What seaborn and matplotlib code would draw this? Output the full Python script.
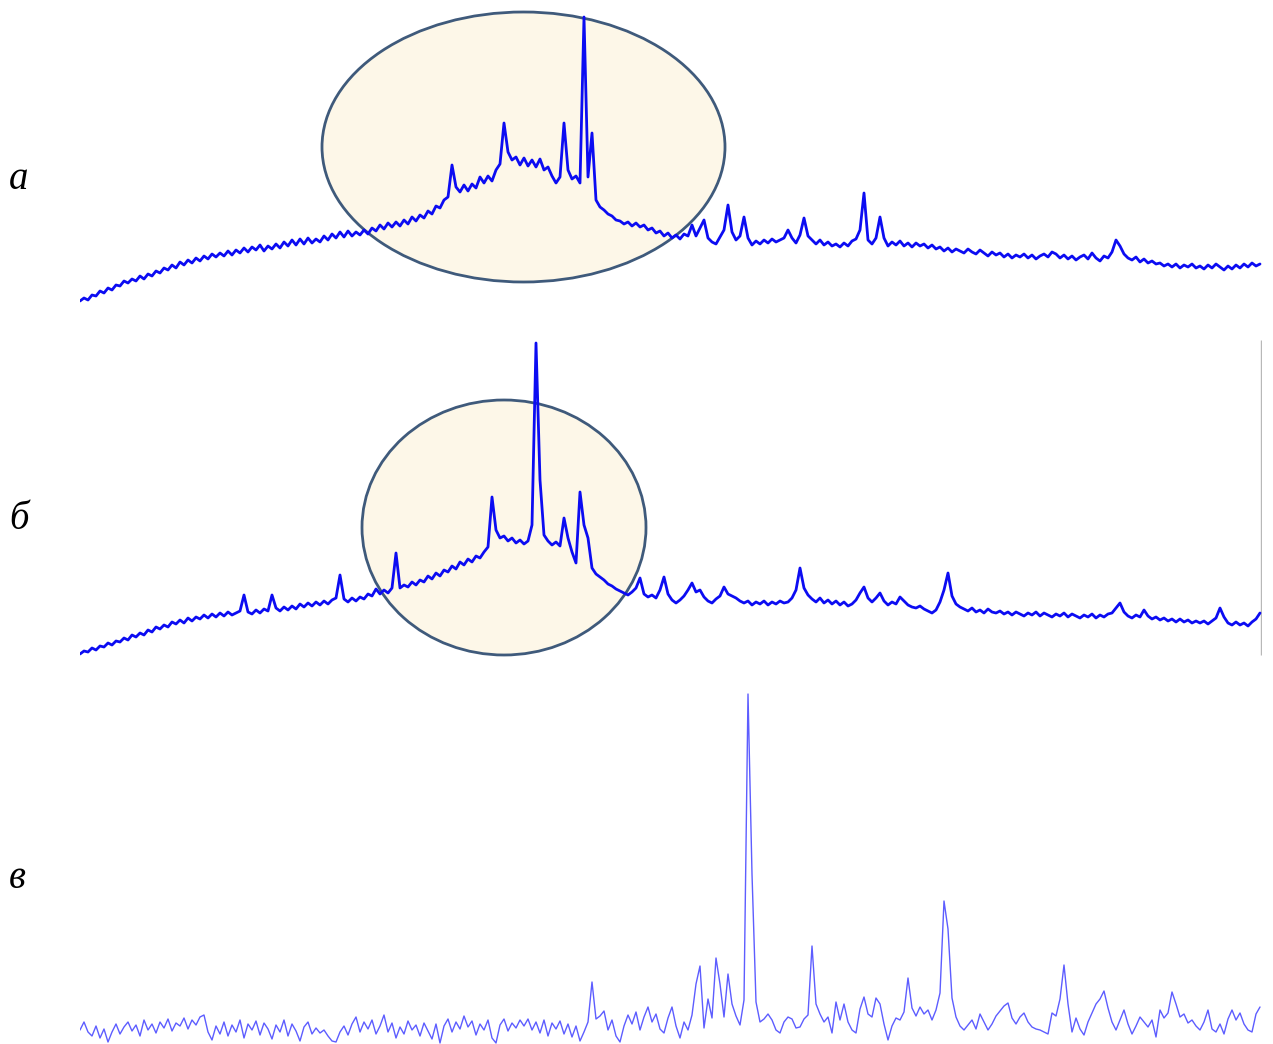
import numpy as np
import pandas as pd
import matplotlib
matplotlib.use("Agg")
import matplotlib.pyplot as plt
from matplotlib.patches import Ellipse
import seaborn as sns

# ---------------- data (2theta step scan, 0.2 deg step, 5.0 .. 64.0 deg) ----------------
two_theta = np.round(5.0 + 0.2 * np.arange(296), 1)

# pattern "а" (intensity, arb. units)
intensity_a = [
    9, 12, 10, 15, 14, 19, 17, 22, 20, 25,
    24, 29, 27, 31, 29, 34, 31, 36, 34, 39,
    37, 42, 40, 45, 42, 48, 45, 50, 47, 52,
    49, 54, 51, 56, 53, 57, 54, 59, 55, 60,
    57, 62, 58, 63, 60, 65, 59, 64, 61, 66,
    62, 68, 64, 70, 65, 71, 66, 72, 67, 71,
    68, 74, 70, 76, 72, 78, 73, 79, 74, 78,
    75, 80, 76, 82, 79, 85, 81, 87, 83, 88,
    84, 90, 86, 93, 89, 95, 92, 99, 96, 104,
    102, 110, 113, 145, 123, 118, 125, 119, 126, 122,
    133, 127, 134, 129, 140, 146, 187, 158, 150, 153,
    145, 152, 144, 150, 143, 151, 140, 143, 134, 127,
    133, 187, 140, 131, 134, 127, 293, 133, 177, 110,
    103, 100, 96, 94, 90, 89, 86, 88, 84, 87,
    83, 85, 80, 82, 77, 79, 74, 77, 72, 75,
    71, 76, 74, 85, 74, 82, 90, 72, 68, 66,
    73, 80, 105, 78, 70, 74, 93, 72, 65, 69,
    66, 70, 67, 71, 68, 70, 72, 80, 72, 67,
    75, 92, 74, 70, 66, 70, 65, 68, 64, 66,
    63, 67, 64, 69, 71, 80, 117, 70, 66, 72,
    93, 72, 64, 68, 65, 69, 64, 67, 63, 67,
    64, 66, 62, 65, 61, 63, 59, 62, 58, 61,
    59, 57, 61, 58, 56, 60, 57, 54, 58, 55,
    57, 53, 56, 52, 55, 53, 56, 52, 55, 51,
    54, 56, 53, 58, 56, 52, 55, 51, 54, 50,
    53, 55, 51, 57, 52, 49, 54, 52, 58, 70,
    64, 56, 52, 50, 53, 48, 51, 47, 49, 46,
    47, 44, 46, 43, 46, 42, 45, 43, 46, 42,
    44, 41, 45, 42, 46, 43, 40, 44, 41, 45,
    42, 46, 43, 47, 44, 46,
]

# pattern "б"
intensity_b = [
    6, 9, 8, 12, 10, 14, 13, 17, 15, 19,
    18, 22, 20, 25, 23, 27, 25, 30, 28, 33,
    31, 35, 33, 38, 36, 40, 37, 42, 39, 43,
    41, 45, 42, 46, 43, 47, 44, 48, 45, 47,
    49, 65, 48, 46, 50, 47, 51, 49, 65, 52,
    49, 53, 50, 54, 51, 56, 53, 57, 54, 58,
    55, 59, 56, 60, 62, 85, 61, 58, 62, 59,
    63, 61, 66, 64, 71, 66, 70, 67, 72, 107,
    72, 75, 73, 78, 75, 80, 78, 84, 81, 87,
    84, 90, 88, 94, 91, 98, 95, 101, 98, 104,
    102, 108, 113, 163, 130, 122, 124, 119, 122, 117,
    120, 116, 119, 135, 317, 180, 125, 119, 115, 118,
    114, 142, 122, 108, 97, 168, 135, 122, 92, 86,
    83, 80, 76, 74, 71, 69, 67, 65, 68, 72,
    82, 66, 63, 65, 62, 70, 83, 66, 60, 57,
    60, 64, 70, 77, 68, 70, 63, 59, 57, 61,
    64, 73, 66, 64, 62, 59, 57, 59, 55, 58,
    56, 59, 55, 58, 56, 59, 57, 58, 62, 70,
    92, 72, 65, 61, 58, 62, 57, 60, 56, 59,
    55, 58, 54, 56, 60, 67, 73, 62, 58, 62,
    67, 59, 55, 58, 56, 63, 59, 55, 53, 52,
    54, 51, 49, 47, 50, 58, 70, 87, 64, 56,
    53, 51, 49, 52, 48, 50, 47, 51, 48, 47,
    49, 46, 48, 45, 48, 46, 44, 47, 45, 48,
    44, 47, 45, 43, 46, 44, 47, 43, 46, 44,
    42, 45, 43, 46, 42, 45, 43, 46, 47, 52,
    57, 48, 44, 42, 45, 43, 50, 44, 41, 43,
    40, 42, 39, 41, 38, 41, 38, 40, 37, 39,
    37, 39, 36, 39, 42, 52, 43, 37, 35, 38,
    35, 37, 34, 38, 41, 47,
]

# pattern "в"
intensity_c = [
    14, 22, 12, 8, 18, 6, 15, 2, 12, 20,
    10, 17, 22, 13, 19, 8, 24, 14, 20, 11,
    22, 16, 25, 13, 21, 18, 26, 15, 24, 19,
    27, 29, 12, 4, 18, 10, 22, 8, 19, 12,
    24, 6, 20, 14, 23, 9, 21, 15, 5, 19,
    12, 24, 8, 20, 13, 3, 17, 22, 10, 16,
    11, 14, 8, 3, 2, 12, 18, 9, 20, 27,
    12, 22, 15, 24, 10, 18, 29, 12, 21, 6,
    17, 10, 23, 14, 19, 8, 21, 13, 5, 20,
    1, 18, 25, 12, 22, 15, 28, 17, 23, 9,
    20, 14, 24, 6, 1, 19, 25, 13, 21, 16,
    24, 18, 25, 14, 22, 11, 24, 8, 21, 15,
    23, 10, 20, 7, 18, 3, 12, 22, 62, 25,
    28, 33, 14, 24, 8, 2, 18, 29, 20, 32,
    14, 27, 37, 22, 30, 15, 11, 26, 37, 18,
    6, 22, 14, 29, 60, 78, 16, 45, 26, 86,
    60, 27, 70, 40, 28, 19, 44, 350, 170, 42,
    22, 25, 30, 24, 14, 11, 22, 27, 25, 16,
    17, 25, 29, 98, 40, 30, 22, 27, 11, 42,
    24, 40, 22, 14, 11, 35, 47, 30, 27, 46,
    40, 20, 4, 18, 26, 24, 32, 66, 36, 28,
    37, 30, 34, 24, 34, 51, 143, 115, 46, 27,
    18, 14, 19, 24, 15, 30, 22, 14, 20, 28,
    33, 38, 41, 26, 20, 27, 31, 22, 17, 15,
    14, 12, 10, 31, 28, 45, 79, 40, 12, 26,
    15, 9, 22, 31, 40, 45, 53, 36, 22, 14,
    24, 34, 20, 10, 18, 27, 22, 17, 24, 7,
    34, 26, 31, 52, 40, 27, 30, 21, 24, 18,
    14, 22, 34, 15, 12, 20, 10, 25, 34, 24,
    31, 20, 14, 12, 30, 37,
]

panel_labels = ["а", "б", "в"]

assert len(intensity_a) == len(two_theta) == len(intensity_b) == len(intensity_c)

df = pd.DataFrame({
    "two_theta": np.tile(two_theta, 3),
    "intensity": intensity_a + intensity_b + intensity_c,
    "pattern": np.repeat(panel_labels, len(two_theta)),
})

# ---------------- figure ----------------
sns.set_theme(style="white")
W, H = 1273, 1044
fig = plt.figure(figsize=(W / 100, H / 100), dpi=100)
fig.patch.set_facecolor("white")

left, width = 80 / W, 1182 / W
bands = [(0, 310), (330, 660), (680, 1044)]   # pixel bands (top, bottom) of each panel
axes = []
for top, bot in bands:
    ax = fig.add_axes([left, 1 - bot / H, width, (bot - top) / H])
    ax.set_xlim(5.0, 64.1)
    ax.set_ylim(0, bot - top)
    ax.axis("off")
    axes.append(ax)

ax_a, ax_b, ax_c = axes

ell_face = "#FDF7E8"
ell_edge = "#3F5A7B"
ax_a.add_patch(Ellipse((27.175, 163), 20.15, 270, facecolor=ell_face,
                       edgecolor=ell_edge, lw=2.0, zorder=1, clip_on=False))
ax_b.add_patch(Ellipse((26.2, 132.5), 14.2, 255, facecolor=ell_face,
                       edgecolor=ell_edge, lw=2.0, zorder=1, clip_on=False))

styles = {
    "а": dict(color="#0C0CF2", lw=2.0, alpha=1.0),
    "б": dict(color="#0C0CF2", lw=2.0, alpha=1.0),
    "в": dict(color="#4B4BFF", lw=1.0, alpha=0.9),
}
for ax, lab in zip(axes, panel_labels):
    sub = df[df["pattern"] == lab]
    sns.lineplot(data=sub, x="two_theta", y="intensity", ax=ax,
                 estimator=None, sort=False, zorder=3, legend=False, **styles[lab])
    ax.axis("off")

# thin grey frame line at the right end of pattern "б"
ax_b.vlines(64.05, 5, 320, color="#B8B8B8", lw=1.0, zorder=2)

# panel letters
letter_pos = [(9, 189), (9, 529), (9, 888)]
for lab, (px, py) in zip(panel_labels, letter_pos):
    fig.text(px / W, 1 - py / H, lab, fontsize=28, style="italic",
             family=["Liberation Serif", "DejaVu Serif"], color="black",
             ha="left", va="baseline")

fig.savefig("out.png", dpi=100, facecolor="white")
